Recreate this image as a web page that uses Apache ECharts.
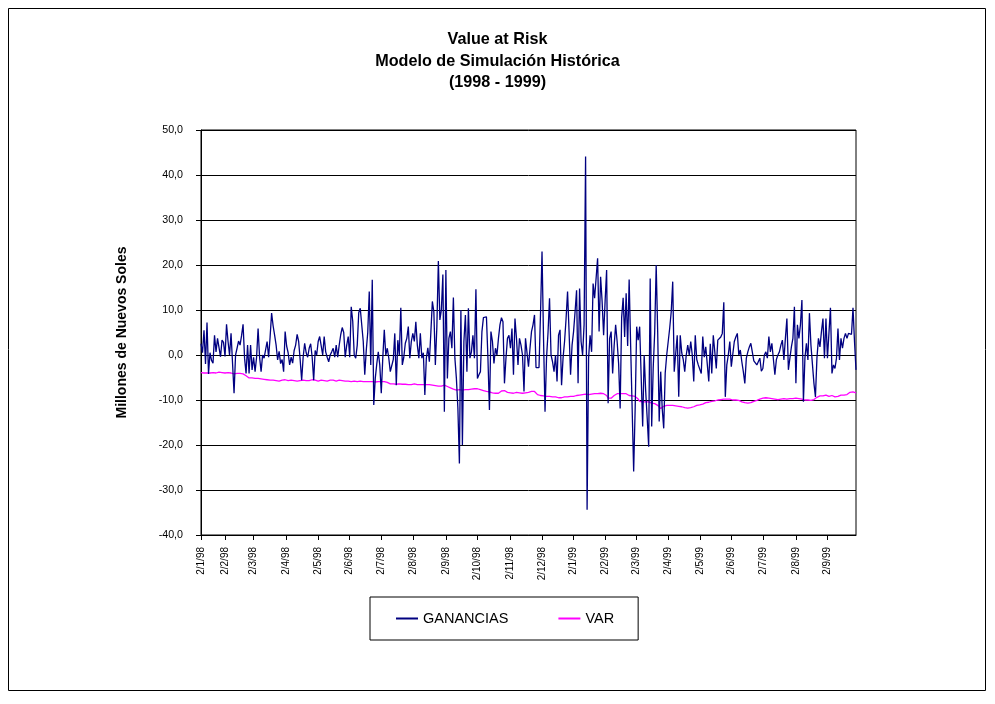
<!DOCTYPE html>
<html>
<head>
<meta charset="utf-8">
<script src="https://cdn.jsdelivr.net/npm/echarts@6/dist/echarts.min.js"></script>
<style>
html,body{margin:0;padding:0;background:#fff;}
#chart{width:995px;height:704px;}
</style>
</head>
<body>
<div id="chart"></div>
<script>
// Tick labels on the date axis and the observation index each falls on
const tickLabels = ['2/1/98','2/2/98','2/3/98','2/4/98','2/5/98','2/6/98','2/7/98','2/8/98','2/9/98','2/10/98','2/11/98','2/12/98','2/1/99','2/2/99','2/3/99','2/4/99','2/5/99','2/6/99','2/7/99','2/8/99','2/9/99'];
const tickIndex = [0,16,35,57,78,99,120,141,163,184,206,227,248,269,290,311,332,353,374,396,417];

// Daily profit/loss (millones de nuevos soles)
const ganancias = [
2.5,0.5,5.5,-2.0,7.2,-4.2,0.5,-1.2,-1.8,4.4,0.7,3.7,3.7,-0.4,3.3,2.8,-0.3,6.8,3.0,0.0,
4.8,4.5,-8.5,0.0,1.5,3.1,2.2,4.3,6.8,-0.7,-4.1,2.2,-4.1,2.2,-3.3,-0.5,-3.7,-0.5,5.9,-0.5,
-3.7,0.0,-0.7,-1.0,3.0,-0.5,4.0,9.3,6.5,4.4,2.2,-1.1,0.8,-1.9,-1.0,-3.7,5.2,2.0,0.5,-2.2,
-0.5,-1.8,1.0,2.2,4.6,3.0,-1.0,-5.6,-0.5,2.6,0.5,-0.5,1.5,2.5,-0.5,-5.6,1.0,0.0,3.0,4.1,
4.1,0.0,4.1,0.7,-0.5,-1.5,0.0,0.7,1.5,-0.5,2.2,-0.5,2.2,4.5,6.1,5.0,-0.5,2.2,4.1,-0.5,
10.7,7.5,0.0,-0.7,2.2,9.4,10.4,10.4,3.0,-4.4,1.0,5.0,14.1,-2.2,16.7,-11.1,-5.2,-2.0,0.7,-2.2,
-8.5,-0.7,5.6,0.0,1.5,-0.7,-3.7,-3.7,-1.0,4.8,-6.7,3.3,0.0,10.5,-2.2,-0.5,2.6,3.7,6.3,-0.7,
3.0,4.8,3.0,7.4,2.2,-0.7,4.8,-0.7,0.5,-8.9,-0.7,1.6,-1.5,5.0,11.9,9.6,-2.2,6.3,20.9,7.8,
10.0,17.9,-12.6,18.9,-5.2,3.7,5.2,1.5,12.8,-0.7,-5.2,-11.9,-24.1,10.0,-20.0,3.0,8.9,-3.7,10.4,-0.7,
0.7,4.4,-0.7,14.6,-5.2,-4.4,-3.7,5.2,8.3,8.7,8.5,-0.7,-12.2,5.2,3.0,-1.9,1.5,0.0,3.7,6.7,
8.3,7.4,-6.3,-0.7,3.7,4.4,1.5,5.9,-4.4,8.1,3.7,-2.2,3.7,2.2,0.0,-8.1,3.7,3.7,-2.6,1.5,
5.2,6.7,8.9,-2.8,-2.6,-2.8,9.3,23.0,3.7,-12.6,-0.7,5.0,12.6,0.0,-1.5,-3.7,0.0,-5.9,4.4,5.6,
-6.7,-0.7,3.0,8.0,14.1,5.2,-4.4,2.2,5.2,9.6,14.4,-6.3,14.8,3.0,0.0,6.7,44.1,-34.4,-0.7,4.4,
0.7,15.9,12.6,12.6,21.5,5.2,17.4,11.9,4.4,12.0,18.9,-10.7,3.7,5.2,-4.1,2.0,6.7,3.0,-2.0,-11.9,
8.3,12.7,4.0,13.7,2.0,16.8,2.0,-12.0,-25.9,-11.9,6.3,3.3,6.3,6.7,-15.9,0.0,-8.0,-14.0,-20.4,17.0,
-15.9,-3.0,5.0,20.0,5.0,-14.8,-3.7,-11.9,-16.3,-4.0,0.0,3.0,6.0,9.6,16.3,-3.7,-3.7,4.4,-9.3,4.4,
0.5,-1.0,-3.7,0.0,2.2,0.0,3.0,0.0,-5.9,4.4,-1.0,-2.2,-2.2,-4.1,4.1,-0.5,1.8,1.5,-5.9,2.5,
-4.1,4.4,0.7,-3.0,3.3,3.7,4.0,4.8,11.7,-9.3,-2.2,0.0,3.0,-2.6,-2.6,3.0,4.0,4.8,0.0,1.1,
-1.5,-3.7,-6.3,-0.7,0.7,1.8,2.6,2.8,-1.3,-1.5,-2.2,-2.6,-0.7,-3.6,-3.0,0.0,0.7,-0.7,4.1,0.7,
2.6,2.6,-4.4,-1.0,0.0,0.7,2.2,3.3,-1.1,3.7,8.1,-3.3,-0.7,1.8,3.7,10.7,-6.3,6.7,3.7,6.7,
12.2,-10.4,-0.7,2.6,-1.1,9.3,2.2,2.2,-6.3,-9.3,-0.7,3.7,1.8,5.2,8.1,-0.7,8.1,-0.7,-1.1,10.5,
-4.1,-2.2,-3.0,-0.7,5.9,-1.1,3.7,1.5,3.7,4.8,3.7,4.8,4.9,4.6,10.5,3.0,-3.3
];

// Value at Risk (millones de nuevos soles)
const valueAtRisk = [
-3.9,-3.9,-4.0,-3.9,-4.0,-4.1,-4.0,-3.9,-3.9,-4.0,-4.0,-3.9,-3.8,-3.9,-3.9,-3.9,-4.0,-4.0,-3.9,-3.9,
-4.0,-4.0,-4.2,-4.2,-4.1,-4.0,-4.1,-4.2,-4.2,-4.3,-4.6,-5.0,-5.1,-5.0,-5.1,-5.2,-5.2,-5.3,-5.2,-5.3,
-5.3,-5.4,-5.4,-5.5,-5.5,-5.6,-5.6,-5.7,-5.6,-5.8,-5.7,-5.7,-5.8,-5.6,-5.6,-5.5,-5.5,-5.6,-5.7,-5.7,
-5.6,-5.6,-5.7,-5.7,-5.8,-5.8,-5.7,-5.6,-5.6,-5.7,-5.7,-5.8,-5.7,-5.6,-5.5,-5.5,-5.6,-5.7,-5.8,-5.7,
-5.6,-5.6,-5.7,-5.8,-5.8,-5.7,-5.6,-5.5,-5.6,-5.7,-5.8,-5.7,-5.6,-5.6,-5.7,-5.8,-5.8,-5.7,-5.8,-5.8,
-5.9,-5.9,-5.8,-5.8,-5.9,-5.9,-5.8,-5.8,-5.9,-5.9,-5.9,-5.9,-5.9,-6.0,-5.9,-6.0,-6.0,-5.9,-5.9,-6.0,
-5.9,-5.9,-5.9,-6.0,-6.1,-6.3,-6.4,-6.3,-6.4,-6.3,-6.5,-6.5,-6.4,-6.5,-6.5,-6.4,-6.5,-6.6,-6.6,-6.5,
-6.6,-6.5,-6.4,-6.5,-6.6,-6.5,-6.6,-6.7,-6.6,-6.5,-6.6,-6.7,-6.6,-6.6,-6.7,-6.7,-6.8,-6.8,-6.9,-6.9,
-6.9,-6.8,-6.7,-6.9,-7.0,-7.1,-7.3,-7.5,-7.6,-7.7,-7.8,-7.7,-7.7,-7.8,-7.8,-7.7,-7.7,-7.6,-7.7,-7.7,
-7.6,-7.6,-7.5,-7.4,-7.5,-7.6,-7.7,-7.8,-7.9,-8.0,-8.1,-8.1,-8.2,-8.3,-8.4,-8.4,-8.5,-8.5,-8.5,-8.4,
-8.0,-7.9,-7.9,-8.0,-8.3,-8.4,-8.4,-8.5,-8.5,-8.4,-8.3,-8.3,-8.4,-8.5,-8.5,-8.4,-8.4,-8.3,-8.3,-8.2,
-8.1,-8.0,-8.1,-8.5,-8.8,-9.0,-9.0,-9.1,-9.1,-9.2,-9.2,-9.1,-9.2,-9.3,-9.3,-9.2,-9.3,-9.4,-9.5,-9.6,
-9.5,-9.3,-9.3,-9.2,-9.3,-9.2,-9.2,-9.3,-9.2,-9.1,-9.0,-8.9,-8.9,-9.0,-8.8,-8.8,-8.7,-8.7,-8.8,-8.7,
-8.7,-8.7,-8.6,-8.6,-8.6,-8.5,-8.5,-8.6,-8.6,-8.7,-9.0,-9.6,-9.7,-9.6,-9.3,-9.0,-8.8,-8.6,-8.6,-8.6,
-8.5,-8.6,-8.5,-8.6,-8.8,-9.0,-9.1,-9.1,-9.2,-9.2,-9.3,-9.8,-10.3,-10.4,-10.4,-10.3,-10.4,-10.5,-10.4,-10.6,
-10.7,-10.7,-10.8,-10.7,-11.2,-11.6,-11.9,-11.9,-11.4,-11.1,-11.2,-11.1,-11.2,-11.1,-11.2,-11.3,-11.3,-11.4,-11.4,-11.3,
-11.5,-11.6,-11.7,-11.7,-11.8,-11.7,-11.7,-11.6,-11.5,-11.3,-11.2,-11.1,-11.1,-11.0,-10.9,-10.8,-10.6,-10.6,-10.5,-10.4,
-10.3,-10.3,-10.2,-10.1,-10.0,-10.0,-9.9,-9.8,-9.8,-9.7,-9.8,-9.9,-9.8,-9.9,-10.0,-9.9,-10.0,-10.0,-10.1,-10.2,
-10.4,-10.5,-10.6,-10.7,-10.7,-10.7,-10.6,-10.5,-10.3,-10.2,-10.1,-10.0,-9.8,-9.7,-9.6,-9.6,-9.5,-9.6,-9.6,-9.7,
-9.7,-9.8,-9.8,-9.8,-9.9,-9.8,-9.8,-9.8,-9.7,-9.8,-9.8,-9.7,-9.7,-9.8,-9.7,-9.7,-9.6,-9.6,-9.7,-9.7,
-9.8,-9.9,-10.0,-10.1,-10.0,-10.0,-10.1,-10.0,-9.9,-9.6,-9.4,-9.2,-9.1,-9.0,-9.1,-8.9,-8.9,-9.0,-9.2,-9.1,
-9.0,-9.1,-9.3,-9.3,-9.2,-9.1,-8.9,-8.8,-8.9,-8.8,-8.8,-8.6,-8.3,-8.2,-8.2,-8.4,-8.4
];

const labelAt = {};
tickIndex.forEach((idx, k) => { labelAt[idx] = tickLabels[k]; });
const categories = ganancias.map((_, i) => String(i));

const FONT = 'Arial, "Liberation Sans", Helvetica, sans-serif';
const chart = echarts.init(document.getElementById('chart'), null, {renderer: 'canvas'});
chart.setOption({
  animation: false,
  backgroundColor: '#ffffff',
  title: {
    text: 'Value at Risk\nModelo de Simulación Histórica\n(1998 - 1999)',
    left: 'center',
    top: 24,
    textStyle: {fontFamily: FONT, fontSize: 16.2, fontWeight: 'bold', color: '#000', lineHeight: 21.5}
  },
  graphic: [{
    type: 'rect',
    shape: {x: 8.5, y: 8.5, width: 977, height: 682},
    style: {fill: 'none', stroke: '#000', lineWidth: 1},
    silent: true
  }],
  legend: {
    data: ['GANANCIAS', 'VAR'],
    left: 370,
    top: 597,
    orient: 'horizontal',
    icon: 'rect',
    itemWidth: 22,
    itemHeight: 2,
    itemGap: 50,
    padding: [14, 24, 14, 26],
    borderColor: '#000',
    borderWidth: 1,
    textStyle: {fontFamily: FONT, fontSize: 14.5, color: '#000'}
  },
  grid: {
    left: 201, right: 139, top: 130, bottom: 169,
    show: true, borderColor: '#000', borderWidth: 1, backgroundColor: 'transparent',
    containLabel: false
  },
  xAxis: {
    type: 'category',
    data: categories,
    boundaryGap: false,
    axisLine: {onZero: false, lineStyle: {color: '#000', width: 1}},
    axisTick: {
      show: true, length: 5, inside: false,
      interval: (i) => labelAt[i] !== undefined,
      lineStyle: {color: '#000'}
    },
    axisLabel: {
      rotate: 90,
      margin: 12,
      interval: (i) => labelAt[i] !== undefined,
      formatter: (v, i) => labelAt[i] || '',
      fontFamily: FONT, fontSize: 10, color: '#000'
    },
    splitLine: {show: false}
  },
  yAxis: {
    type: 'value',
    min: -40, max: 50, interval: 10,
    name: 'Millones de Nuevos Soles',
    nameLocation: 'middle',
    nameRotate: 90,
    nameGap: 72,
    nameTextStyle: {fontFamily: FONT, fontSize: 14, fontWeight: 'bold', color: '#000'},
    axisLine: {show: true, lineStyle: {color: '#000', width: 1}},
    axisTick: {show: true, length: 5, inside: false, lineStyle: {color: '#000'}},
    axisLabel: {
      margin: 18,
      formatter: (v) => v.toFixed(1).replace('.', ','),
      fontFamily: FONT, fontSize: 10.7, color: '#000'
    },
    splitLine: {show: true, lineStyle: {color: '#000', width: 1}}
  },
  series: [
    {
      name: 'GANANCIAS', type: 'line', data: ganancias,
      symbol: 'none', smooth: false,
      lineStyle: {color: '#000080', width: 1.3},
      itemStyle: {color: '#000080'},
      z: 3
    },
    {
      name: 'VAR', type: 'line', data: valueAtRisk,
      symbol: 'none', smooth: false,
      lineStyle: {color: '#FF00FF', width: 1.3},
      itemStyle: {color: '#FF00FF'},
      z: 2
    }
  ]
});
</script>
</body>
</html>
